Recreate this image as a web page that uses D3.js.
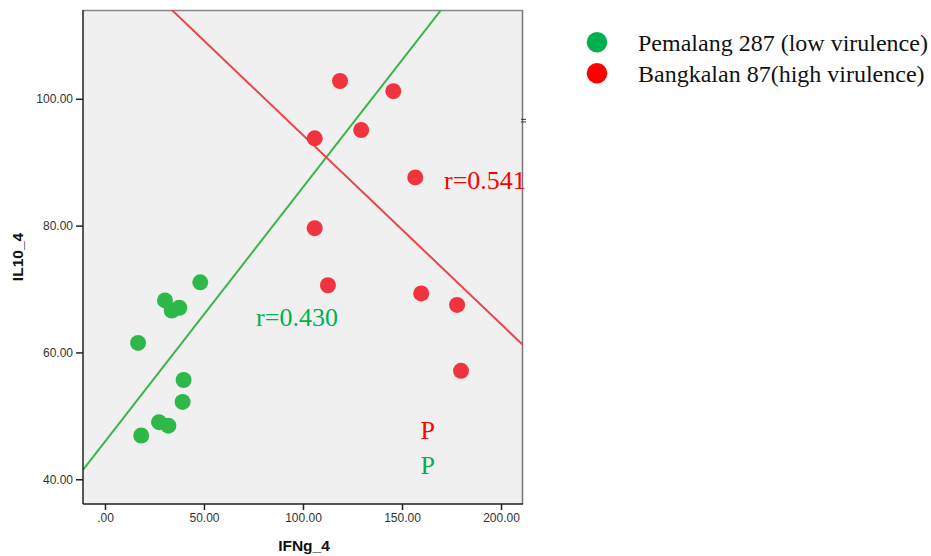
<!DOCTYPE html>
<html>
<head>
<meta charset="utf-8">
<script src="https://cdn.jsdelivr.net/npm/d3@7"></script>
<style>
  body { margin: 0; background: #fff; }
  svg { display: block; }
</style>
</head>
<body>
<div id="chart-area"></div>
<script>
// Data
var seriesNames = ["Pemalang 287 (low virulence)", "Bangkalan 87(high virulence)"];

var greenIFN = [16.7, 30.3, 33.7, 37.5, 48.1, 39.7, 39.2, 27.3, 32.0, 18.3];
var greenIL10 = [61.5, 68.2, 66.6, 67.05, 71.05, 55.65, 52.2, 49.0, 48.45, 46.9];

var redIFN = [118.7, 145.6, 129.4, 105.9, 156.7, 105.9, 112.6, 159.7, 177.8, 179.8];
var redIL10 = [102.8, 101.2, 95.07, 93.76, 87.6, 79.6, 70.6, 69.3, 67.5, 57.1];

// fit lines: [intercept, slope]
var greenFit = [45.95, 0.401];
var redFit = [124.07, -0.298];

var xTicks = [0, 50, 100, 150, 200];
var yTicks = [40, 60, 80, 100];

var width = 931;
var height = 556;

var margin = { left: 83, top: 10, right: 408, bottom: 52 };
var plotW = width - margin.left - margin.right;
var plotH = height - margin.top - margin.bottom;

var svg = d3.select("#chart-area")
  .append("svg")
  .attr("width", width)
  .attr("height", height);

var g = svg.append("g")
  .attr("transform", "translate(" + margin.left + "," + margin.top + ")");

// Scales
var x = d3.scaleLinear()
  .domain([-11.1, 211.1])
  .range([0, plotW]);

var y = d3.scaleLinear()
  .domain([36.1, 114])
  .range([plotH, 0]);

// Background
g.append("rect")
  .attr("width", plotW)
  .attr("height", plotH)
  .attr("fill", "#f0f0f0");

g.append("clipPath")
  .attr("id", "clip")
  .append("rect")
  .attr("width", plotW)
  .attr("height", plotH);

// Top and right frame
g.append("line")
  .attr("x1", 0).attr("x2", plotW).attr("y1", 0.5).attr("y2", 0.5)
  .attr("stroke", "#888").attr("stroke-width", 1.5);
g.append("line")
  .attr("x1", plotW - 0.5).attr("x2", plotW - 0.5).attr("y1", 0).attr("y2", plotH)
  .attr("stroke", "#777").attr("stroke-width", 1.5);

// Fit lines
var fits = g.append("g").attr("clip-path", "url(#clip)");

function fitLine(fit, color) {
  var xs = x.domain();
  fits.append("line")
    .attr("x1", x(xs[0]))
    .attr("y1", y(fit[0] + fit[1] * xs[0]))
    .attr("x2", x(xs[1]))
    .attr("y2", y(fit[0] + fit[1] * xs[1]))
    .attr("stroke", color)
    .attr("stroke-width", 2);
}

fitLine(greenFit, "#3bb54a");
fitLine(redFit, "#ec4449");

// Points
var greenData = greenIFN.map(function(d, i) { return [d, greenIL10[i]]; });
var redData = redIFN.map(function(d, i) { return [d, redIL10[i]]; });

g.selectAll(".pg")
  .data(greenData)
  .enter()
  .append("circle")
  .attr("class", "pg")
  .attr("cx", function(d) { return x(d[0]); })
  .attr("cy", function(d) { return y(d[1]); })
  .attr("r", 8)
  .attr("fill", "#2fb84a");

g.selectAll(".pr")
  .data(redData)
  .enter()
  .append("circle")
  .attr("class", "pr")
  .attr("cx", function(d) { return x(d[0]); })
  .attr("cy", function(d) { return y(d[1]); })
  .attr("r", 8)
  .attr("fill", "#f0343f");

// Axes
var xAxis = d3.axisBottom(x)
  .tickValues(xTicks)
  .tickSize(6)
  .tickSizeOuter(0)
  .tickFormat(function(d) { return d === 0 ? ".00" : d3.format(".2f")(d); });

var xg = g.append("g")
  .attr("transform", "translate(0," + plotH + ")")
  .call(xAxis);

var yAxis = d3.axisLeft(y)
  .tickValues(yTicks)
  .tickSize(7)
  .tickSizeOuter(0)
  .tickFormat(d3.format(".2f"));

var yg = g.append("g")
  .call(yAxis);

[xg, yg].forEach(function(a) {
  a.select(".domain").attr("stroke", "#222").attr("stroke-width", 1.5);
  a.selectAll(".tick line").attr("stroke", "#222").attr("stroke-width", 1.5);
  a.selectAll(".tick text")
    .attr("fill", "#333")
    .style("font-family", "'Liberation Sans', Arial, sans-serif")
    .style("font-size", "12px");
});
xg.select(".domain").attr("d", "M0,0H" + plotW);
yg.select(".domain").attr("d", "M0,0V" + plotH);

// stray mark on right edge
g.append("line")
  .attr("x1", plotW - 2).attr("x2", plotW + 3)
  .attr("y1", y(96.75)).attr("y2", y(96.75))
  .attr("stroke", "#333").attr("stroke-width", 1);
g.append("line")
  .attr("x1", plotW - 2).attr("x2", plotW + 3)
  .attr("y1", y(96.35)).attr("y2", y(96.35))
  .attr("stroke", "#333").attr("stroke-width", 1);

// Axis titles
svg.append("text")
  .attr("x", margin.left + plotW / 2 + 1)
  .attr("y", 551)
  .attr("text-anchor", "middle")
  .style("font-family", "'Liberation Sans', Arial, sans-serif")
  .style("font-size", "15.5px")
  .style("font-weight", "bold")
  .attr("fill", "#111")
  .text("IFNg_4");

svg.append("text")
  .attr("transform", "translate(23," + (margin.top + plotH / 2) + ") rotate(-90)")
  .attr("text-anchor", "middle")
  .style("font-family", "'Liberation Sans', Arial, sans-serif")
  .style("font-size", "15.5px")
  .style("font-weight", "bold")
  .attr("fill", "#111")
  .text("IL10_4");

// Annotations
var serif = "'Liberation Serif', 'Times New Roman', serif";

g.append("text")
  .attr("x", x(76.3)).attr("y", y(64.17))
  .style("font-family", serif).style("font-size", "26px")
  .attr("fill", "#00b050")
  .text("r=0.430");

g.append("text")
  .attr("x", x(171.2)).attr("y", y(85.76))
  .style("font-family", serif).style("font-size", "26px")
  .attr("fill", "#ff0000")
  .text("r=0.541");

g.append("text")
  .attr("x", x(159.4)).attr("y", y(46.35))
  .style("font-family", serif).style("font-size", "26px")
  .attr("fill", "#ff0000")
  .text("P");

g.append("text")
  .attr("x", x(159.4)).attr("y", y(40.83))
  .style("font-family", serif).style("font-size", "26px")
  .attr("fill", "#00b050")
  .text("P");

// Legend
var legendColors = ["#00b050", "#ff0000"];
var legend = svg.selectAll(".legend")
  .data(seriesNames)
  .enter()
  .append("g")
  .attr("class", "legend")
  .attr("transform", function(d, i) { return "translate(597," + (42.3 + i * 31) + ")"; });

legend.append("circle")
  .attr("r", 10.3)
  .attr("fill", function(d, i) { return legendColors[i]; });

legend.append("text")
  .attr("x", 41)
  .attr("y", 8.5)
  .style("font-family", serif)
  .style("font-size", "24px")
  .attr("fill", "#111")
  .text(function(d) { return d; });
</script>
</body>
</html>
